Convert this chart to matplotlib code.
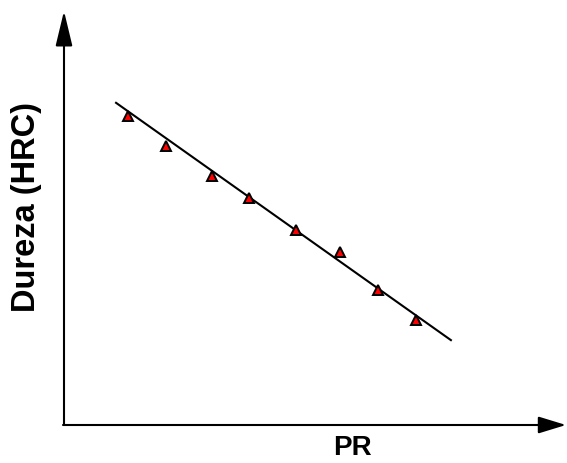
import matplotlib.pyplot as plt

# Data (arbitrary units)
pr = [13.0, 20.8, 30.1, 37.7, 47.3, 56.2, 64.0, 71.7]
hrc = [75.0, 67.7, 60.4, 55.1, 47.3, 42.0, 32.8, 25.5]
fit_x = [10.6, 78.8]
fit_y = [78.2, 20.6]

plt.rcParams['font.family'] = ['Liberation Sans', 'DejaVu Sans']

fig = plt.figure(figsize=(5.67, 4.63), dpi=100)
ax = fig.add_axes([64 / 567, 38 / 463, 491 / 567, 412 / 463])
ax.set_xlim(0, 100)
ax.set_ylim(0, 100)
ax.axis('off')

# Fit line and measured points
ax.plot(fit_x, fit_y, color='black', lw=1.5)
ax.plot(pr, hrc, linestyle='none', marker='^', markersize=7,
        markerfacecolor='red', markeredgecolor='black', markeredgewidth=1.4)

# Axis arrows (figure pixel coordinates, origin bottom-left)
ax.annotate('', xy=(64, 463 - 11), xytext=(64, 463 - 425),
            xycoords='figure pixels', textcoords='figure pixels',
            arrowprops=dict(arrowstyle='-|>,head_length=1.08,head_width=0.26',
                            mutation_scale=20, lw=1.5, color='black',
                            shrinkA=0, shrinkB=0))
ax.annotate('', xy=(566, 463 - 425), xytext=(63, 463 - 425),
            xycoords='figure pixels', textcoords='figure pixels',
            arrowprops=dict(arrowstyle='-|>,head_length=0.85,head_width=0.26',
                            mutation_scale=20, lw=1.5, color='black',
                            shrinkA=0, shrinkB=0))

# Labels
fig.text(352 / 567, 1 - 448 / 463, 'PR', fontsize=20, fontweight='bold',
         ha='center', va='center')
fig.text(27 / 567, 1 - 207 / 463, 'Dureza (HRC)', fontsize=23.5, fontweight='bold',
         ha='center', va='center', rotation=90)

fig.savefig('out.png', dpi=100)
